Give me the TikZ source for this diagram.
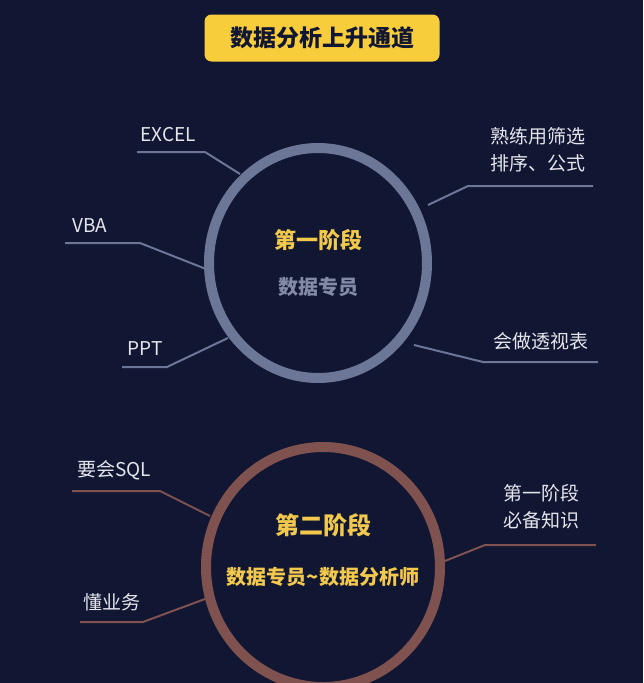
\documentclass[tikz,border=0pt]{standalone}
\usepackage{fontspec}
\setmainfont{Noto Sans CJK SC}
\usepackage{xcolor}
\definecolor{bgnavy}{HTML}{111633}
\definecolor{ringgrey}{HTML}{6C7696}
\definecolor{ringbrown}{HTML}{80524F}
\definecolor{titleyellow}{HTML}{F7CD3B}
\definecolor{stageyellow}{HTML}{F2C94C}
\definecolor{labelgrey}{HTML}{E4E6EC}
\tikzset{label text/.style={text=labelgrey,font=\fontsize{19}{27}\selectfont,align=center,inner sep=0pt},
    stage text/.style={text=stageyellow,font=\bfseries\fontsize{22}{24}\selectfont,inner sep=0pt},
    grey leg/.style={draw=ringgrey,line width=2pt},
    brown leg/.style={draw=ringbrown,line width=2pt}}

\begin{document}
\begin{tikzpicture}[x=1pt,y=-1pt]
            \fill[bgnavy] (0,0) rectangle (643,683);
            \useasboundingbox (0,0) rectangle (643,683);
            % title
            \node[fill=titleyellow,rounded corners=7pt,minimum width=235pt,minimum height=47pt,
                font=\bfseries\fontsize{23}{24}\selectfont,text=bgnavy] (title) at (322,38) {数据分析上升通道};
            % stage one
            \draw[draw=ringgrey,line width=10pt] (318,263) ellipse [x radius=109,y radius=115];
            \node[stage text] (one) at (318,240) {第一阶段};
            \node[stage text,text=ringgrey!85!white,font=\bfseries\fontsize{20}{24}\selectfont] (oneb) at (318,287) {数据专员};
            \node[label text] (excel) at (168,135) {EXCEL};
            \node[label text] (vba) at (90,226) {VBA};
            \node[label text] (ppt) at (145,349) {PPT};
            \node[label text] (filt) at (538,150) {熟练用筛选\\排序、公式};
            \node[label text] (pivot) at (541,341) {会做透视表};
            \coordinate (e1) at (137,152); \coordinate (e2) at (205,152); \coordinate (e3) at (240,174);
            \coordinate (v1) at (65,243); \coordinate (v2) at (140,243); \coordinate (v3) at (206,269);
            \coordinate (p1) at (122,367); \coordinate (p2) at (167,367); \coordinate (p3) at (228,338);
            \coordinate (f1) at (593,186); \coordinate (f2) at (468,186); \coordinate (f3) at (428,205);
            \coordinate (t1) at (598,362); \coordinate (t2) at (483,362); \coordinate (t3) at (414,345);
            \draw[grey leg] (e1) -- (e2) -- (e3);
            \draw[grey leg] (v1) -- (v2) -- (v3);
            \draw[grey leg] (p1) -- (p2) -- (p3);
            \draw[grey leg] (f1) -- (f2) -- (f3);
            \draw[grey leg] (t1) -- (t2) -- (t3);
            % stage two
            \draw[draw=ringbrown,line width=10pt] (323,567) ellipse [x radius=117,y radius=120];
            \node[stage text,font=\bfseries\fontsize{24}{24}\selectfont] (two) at (323,525) {第二阶段};
            \node[stage text,font=\bfseries\fontsize{20}{24}\selectfont] (twob) at (323,577) {数据专员\textasciitilde 数据分析师};
            \node[label text] (sql) at (114,470) {要会SQL};
            \node[label text] (biz) at (112,602) {懂业务};
            \node[label text] (basic) at (541,507) {第一阶段\\必备知识};
            \coordinate (s1) at (72,491); \coordinate (s2) at (160,491); \coordinate (s3) at (210,516);
            \coordinate (b1) at (80,622); \coordinate (b2) at (143,622); \coordinate (b3) at (205,599);
            \coordinate (k1) at (596,545); \coordinate (k2) at (485,545); \coordinate (k3) at (445,561);
            \draw[brown leg] (s1) -- (s2) -- (s3);
            \draw[brown leg] (b1) -- (b2) -- (b3);
            \draw[brown leg] (k1) -- (k2) -- (k3);
        \end{tikzpicture}
\end{document}
